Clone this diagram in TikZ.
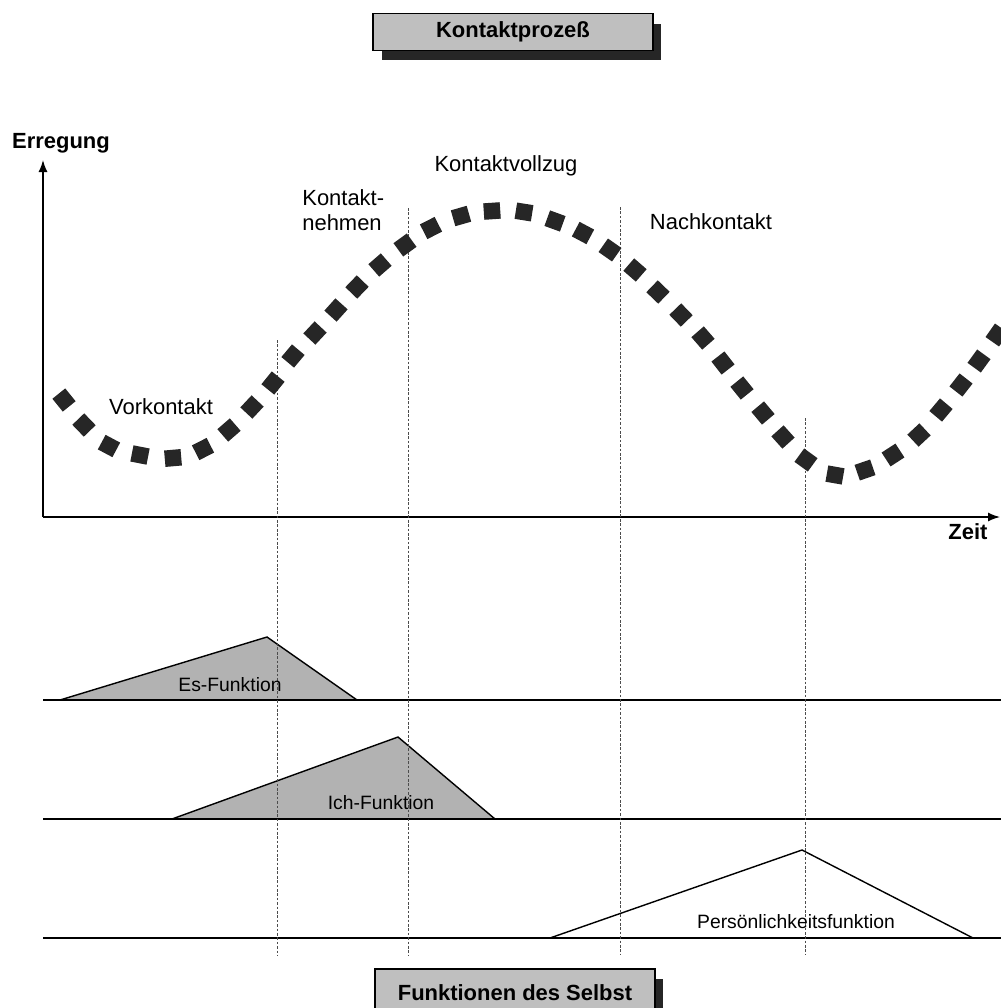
\documentclass[tikz,border=0pt]{standalone}
\usepackage{fontspec}
\setmainfont{Liberation Sans}
\setsansfont{Liberation Sans}
\usetikzlibrary{arrows.meta,positioning,shadows}
\tikzstyle{banner}=[draw, line width=0.7pt, fill=black!25, font=\bfseries\fontsize{12.5}{15}\selectfont, minimum width=5.6cm, minimum height=0.74cm, drop shadow={shadow xshift=0.17cm, shadow yshift=-0.2cm, fill=black!85, opacity=1}]
\tikzstyle{phase}=[font=\fontsize{12.5}{14.2}\selectfont, inner sep=0pt, align=left]
\tikzstyle{axislabel}=[font=\bfseries\fontsize{12.5}{15}\selectfont, inner sep=0pt]
\tikzstyle{func}=[font=\fontsize{11}{13}\selectfont, inner sep=0pt]
\tikzstyle{guide}=[black!70, line width=0.5pt, dash pattern=on 1.5pt off 1pt]
\tikzstyle{track}=[line width=0.8pt]
\tikzstyle{bump}=[draw, line width=0.8pt, line join=miter]
\tikzstyle{sq}=[fill=black!85, minimum size=0.33cm, inner sep=0pt]

\begin{document}
\begin{tikzpicture}[x=0.02cm,y=-0.02cm,>={Latex[length=0.24cm,width=0.18cm]}]
\useasboundingbox (0,0) rectangle (1001,1008);
% titles
\node [banner] (title) at (513,32) {Kontaktprozeß};
\node [banner, minimum height=0.96cm] (selbst) at (515,993) {Funktionen des Selbst};
% axes
\coordinate (O) at (43,517);
\coordinate (ytip) at (43,160);
\coordinate (xtip) at (1000,517);
\draw[->, line width=0.8pt] (O) -- (ytip);
\draw[->, line width=0.8pt] (O) -- (xtip);
\node [axislabel] (erregung) at (61,143) {Erregung};
\node [axislabel] (zeit) at (968,532) {Zeit};
% function triangles
\coordinate (es) at (267,637);
\coordinate (ich) at (398,737);
\coordinate (pers) at (802,850);
\draw[bump, fill=black!30] (60,700) -- (es) -- (357,700);
\draw[bump, fill=black!30] (172,819) -- (ich) -- (495,819);
\draw[bump, fill=white] (550,938) -- (pers) -- (973,938);
\foreach \y in {700,819,938}
  \draw[track] (43,\y) -- (1001,\y);
% phase borders
\foreach \x/\t in {277/340,408/208,620/207,805/418}
  \draw[guide] (\x,\t) -- (\x,955);
% excitation curve (x/y/tangent angle)
\foreach \x/\y/\a [count=\i] in {64/400/-51, 84/425/-46, 109/446/-28, 140/455/-11, 173/458/5,
    203/449/27, 229/430/41, 252/407/47, 273/383/51, 293/356/50, 315/333/47, 336/310/48,
    357/287/46, 380/265/41, 405/245/36, 431/228/27, 461/216/16, 492/211/4, 524/212/-9,
    555/221/-20, 583/233/-28, 610/250/-35, 635/270/-41, 658/292/-44, 681/315/-46,
    703/338/-49, 723/363/-52, 742/388/-51, 763/413/-50, 783/437/-48, 806/460/-36,
    835/475/-10, 865/470/19, 893/455/33, 919/435/43, 941/410/50, 961/385/52,
    979/361/54, 997/335/55}
  \node [sq, rotate=\a] (s\i) at (\x,\y) {};
% labels
\node [phase] (vork) at (161,407) {Vorkontakt};
\node [phase, anchor=west] (nehmen) at (302,210) {Kontakt-\\nehmen};
\node [phase] (vollzug) at (506,166) {Kontaktvollzug};
\node [phase] (nach) at (711,222) {Nachkontakt};
\node [func] (esf) at (230,685) {Es-Funktion};
\node [func] (ichf) at (381,803) {Ich-Funktion};
\node [func] (persf) at (796,922) {Persönlichkeitsfunktion};
\end{tikzpicture}
\end{document}
